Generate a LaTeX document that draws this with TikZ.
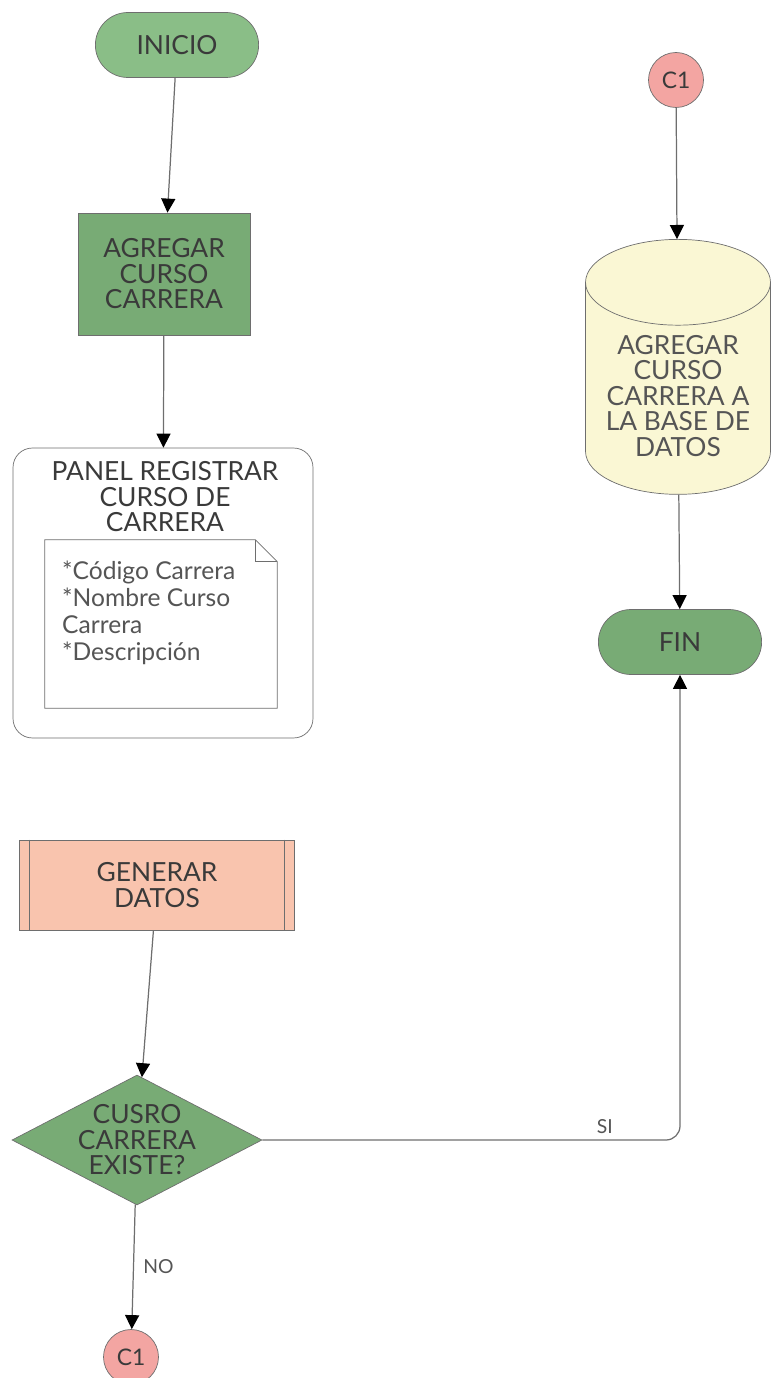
\documentclass[tikz,border=0pt]{standalone}
\usepackage{fontspec}
\setmainfont{Lato}
\usetikzlibrary{arrows.meta,positioning,calc,shapes.geometric,shapes.misc}
\definecolor{flowgreen}{HTML}{78AB75}
\definecolor{flowlight}{HTML}{8ABE87}
\definecolor{flowsalmon}{HTML}{F9C4AE}
\definecolor{flowpink}{HTML}{F3A5A2}
\definecolor{flowcream}{HTML}{FAF7D4}
\definecolor{flowline}{HTML}{6E6E6E}
\definecolor{flowtext}{HTML}{3A3A3A}
\definecolor{flowsoft}{HTML}{555555}
\tikzset{%
  font=\fontsize{15}{14.5}\selectfont,>={Triangle[length=8pt,width=8pt,color=black]},
  terminal/.style={rounded rectangle,draw=flowline,fill=flowgreen,text=flowtext,
    minimum width=3.5cm,minimum height=1.3cm},
  process/.style={rectangle,draw=flowline,fill=flowgreen,text=flowtext,align=center,
    minimum width=3.44cm,minimum height=2.44cm},
  panel/.style={rectangle,rounded corners=11pt,draw=flowline,fill=white,
    minimum width=6cm,minimum height=5.8cm},
  subproc/.style={rectangle,draw=flowline,fill=flowsalmon,text=flowtext,align=center,
    minimum width=5.5cm,minimum height=1.8cm},
  decision/.style={diamond,draw=flowline,fill=flowgreen,aspect=1.9,inner sep=0pt,
    minimum width=5cm,minimum height=2.6cm},
  connector/.style={circle,draw=flowline,fill=flowpink,text=flowtext,inner sep=0pt,
    minimum size=1.1cm,font=\fontsize{13}{14}\selectfont},
  database/.style={cylinder,shape border rotate=90,aspect=0.55,draw=flowline,
    fill=flowcream,text=flowsoft,align=center,minimum width=3.7cm,minimum height=5.1cm},
  line/.style={draw=flowline,line width=0.7pt,->}
}
\begin{document}
\begin{tikzpicture}[x=0.02cm,y=-0.02cm,
	lbl/.style={font=\fontsize{11}{12}\selectfont,text=flowsoft},
	note/.style={minimum width=4.64cm,minimum height=3.36cm}]
	\useasboundingbox (0,0) rectangle (776,1378);
	% columna izquierda
	\node[terminal,fill=flowlight] (inicio) at (177,45) {INICIO};
	\node[process] (agregar) at (164,274) {AGREGAR\\CURSO\\CARRERA};
	\node[panel] (panel) at (163,593) {};
	\node[align=center,text=flowtext] (panel-titulo) at (165,497) {PANEL REGISTRAR\\CURSO DE\\CARRERA};
	\node[note] (nota) at (161,624) {};
	\draw[flowline,fill=white] (nota.north west) -- ($(nota.north east)+(-22,0)$)
		-- ($(nota.north east)+(0,22)$) -- (nota.south east) -- (nota.south west) -- cycle;
	\draw[flowline] ($(nota.north east)+(-22,0)$) -- ($(nota.north east)+(-22,22)$)
		-- ($(nota.north east)+(0,22)$);
	\node[anchor=north west,align=left,text=flowsoft,font=\fontsize{14}{15.3}\selectfont]
		(campos) at (56,555) {*Código Carrera\\*Nombre Curso\\Carrera\\*Descripción};
	\node[subproc] (generar) at (157,885) {GENERAR\\DATOS};
	\draw[flowline] ($(generar.north west)+(10,0)$) -- ($(generar.south west)+(10,0)$);
	\draw[flowline] ($(generar.north east)+(-10,0)$) -- ($(generar.south east)+(-10,0)$);
	\node[decision] (existe) at (137,1140) {};
	\node[align=center,text=flowtext] (existe-txt) at (existe) {CUSRO\\CARRERA\\EXISTE?};
	\node[connector] (c1-abajo) at (131,1357) {C1};
	% columna derecha
	\node[connector] (c1-arriba) at (676,80) {C1};
	\node[database] (base) at (678,396) {AGREGAR\\CURSO\\CARRERA A\\LA BASE DE\\DATOS};
	\node[terminal] (fin) at (680,642) {FIN};
	% flechas
	\draw[line] (inicio) -- (agregar);
	\draw[line] (agregar) -- (panel);
	\draw[line] (generar) -- (existe);
	\draw[line] (existe) -- node[lbl,right=2pt] {NO} (c1-abajo);
	\draw[line,rounded corners=8pt] (existe.east) -| node[lbl,anchor=south,pos=0.41] {SI} (fin);
	\draw[line] (c1-arriba) -- (base);
	\draw[line] (base) -- (fin);
\end{tikzpicture}
\end{document}
